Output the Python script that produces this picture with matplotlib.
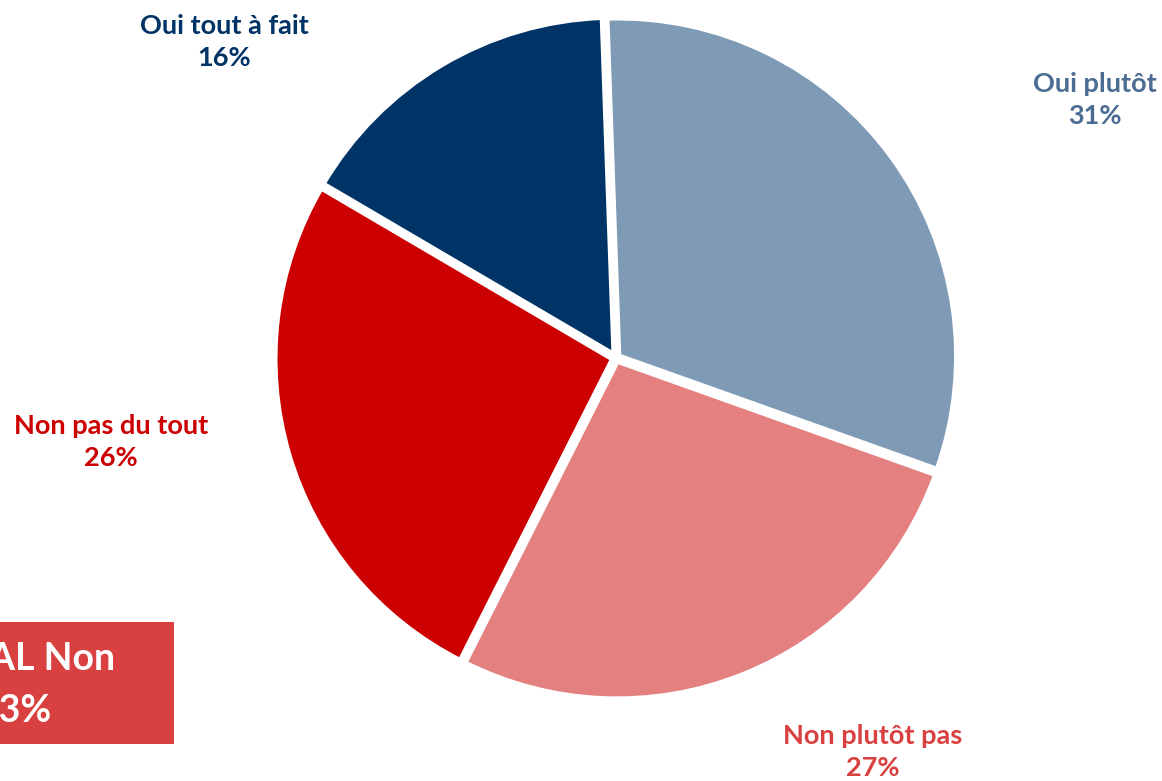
import matplotlib
matplotlib.use("Agg")
from matplotlib import pyplot as plt
from matplotlib.patches import Rectangle

W, H = 1162, 781

# Data (order: counterclockwise from the top)
labels = ["Oui tout à fait", "Non pas du tout", "Non plutôt pas", "Oui plutôt"]
values = [16, 26, 27, 31]
slice_colors = ["#003366", "#CC0000", "#E48080", "#7F9AB5"]
label_colors = ["#003366", "#CC0000", "#D94040", "#4B6C93"]
total_label = "TOTAL Non"
total_value = 53

# label centres in pixels (x, y from top)
label_pos = [(224, 42), (111, 442), (873, 752), (1095, 100)]

plt.rcParams['font.family'] = ['Lato', 'DejaVu Sans']

fig = plt.figure(figsize=(W / 100, H / 100), dpi=100)

# pie centre ~ (616, 358) px, radius ~ 339 px
cx, cy, r = 616, 358, 339
ax = fig.add_axes([(cx - r) / W, (H - cy - r) / H, 2 * r / W, 2 * r / H])
ax.pie(values, colors=slice_colors, startangle=92, counterclock=True,
       explode=[0.008] * len(values),
       wedgeprops=dict(edgecolor="white", linewidth=4.5))
ax.set_xlim(-1, 1)
ax.set_ylim(-1, 1)
ax.set_aspect("equal")
ax.axis("off")

for lab, val, col, (px, py) in zip(labels, values, label_colors, label_pos):
    fig.text(px / W, 1 - py / H, f"{lab}\n{val}%", color=col, fontsize=19.5,
             fontweight="bold", ha="center", va="center", linespacing=1.45)

# TOTAL Non box, cut at the left edge
box = Rectangle((0, (H - 744) / H), 174 / W, (744 - 622) / H,
                transform=fig.transFigure, facecolor="#D94040",
                edgecolor="none")
fig.patches.append(box)
fig.text(15 / W, 1 - 685 / H, f"{total_label}\n{total_value}%", color="white",
         fontsize=27, fontweight="bold", ha="center", va="center",
         linespacing=1.62)

fig.savefig("out.png", dpi=100)
